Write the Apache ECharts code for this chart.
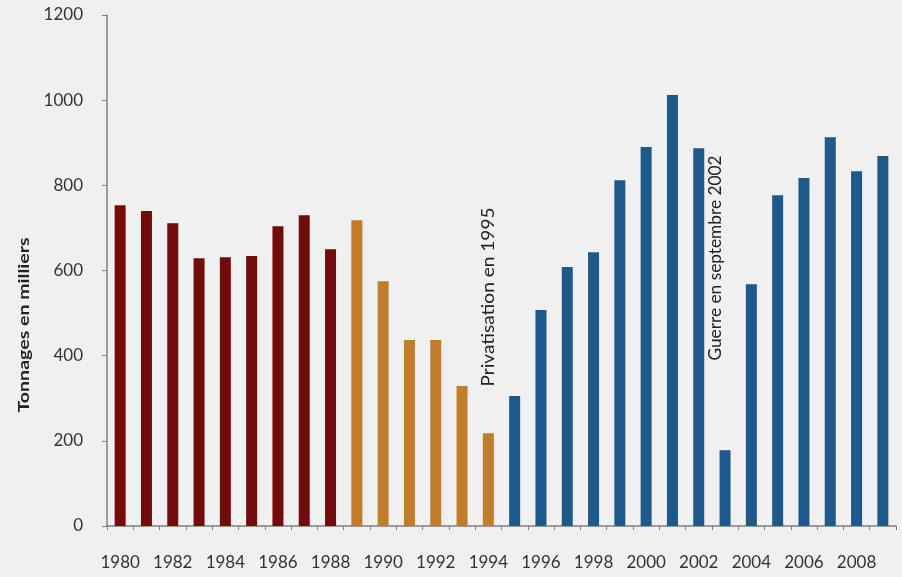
<!DOCTYPE html>
<html>
<head>
<meta charset="utf-8">
<script src="https://cdn.jsdelivr.net/npm/echarts@6/dist/echarts.min.js"></script>
<style>
html, body { margin: 0; padding: 0; background: #f0f0f0; }
#chart { width: 902px; height: 577px; }
</style>
</head>
<body>
<div id="chart"></div>
<script>
// years 1980 - 2009
var years = [];
for (var y = 1980; y <= 2009; y++) years.push(String(y));

// tonnages (milliers)
var tonnages = [753, 740, 711, 629, 631, 634, 704, 730, 650, 718,
                575, 437, 437, 329, 218, 305, 507, 608, 643, 812,
                890, 1012, 887, 178, 568, 777, 817, 913, 833, 869];

// period colours: up to 1988, 1989-1994, from 1995
var periodColors = ['#740b0b', '#c07d2b', '#1d5a8b'];
function colorFor(year) {
    var n = Number(year);
    if (n <= 1988) return periodColors[0];
    if (n <= 1994) return periodColors[1];
    return periodColors[2];
}

var yTicks = [0, 200, 400, 600, 800, 1000, 1200];
var yTitle = 'Tonnages en milliers';
var annotations = ['Privatisation en 1995', 'Guerre en septembre 2002'];

// the source picture has tall, narrow lettering: stretch text to a wanted length
var measureCtx = document.createElement('canvas').getContext('2d');
function stretchTo(text, font, len) {
    measureCtx.font = font;
    return len / measureCtx.measureText(text).width;
}

function verticalText(text, font, x, y, len) {
    return {
        type: 'text', x: x, y: y, rotation: Math.PI / 2,
        scaleX: stretchTo(text, font, len),
        style: { text: text, font: font, fill: '#222', textAlign: 'center', textVerticalAlign: 'middle' }
    };
}

var chart = echarts.init(document.getElementById('chart'));

var option = {
    backgroundColor: '#f0f0f0',
    animation: false,
    grid: { left: 107, right: 6, top: 15, bottom: 51 },
    xAxis: {
        type: 'category',
        data: years,
        axisLine: { lineStyle: { color: '#7f7f7f', width: 1.5 } },
        axisTick: { show: true, length: 4, interval: 0, lineStyle: { color: '#7f7f7f' } },
        axisLabel: { interval: 1, color: '#333', fontSize: 17, fontFamily: 'Lato', margin: 28 }
    },
    yAxis: {
        type: 'value',
        min: yTicks[0],
        max: yTicks[yTicks.length - 1],
        interval: 200,
        splitLine: { show: false },
        axisLine: { show: true, lineStyle: { color: '#7f7f7f', width: 1.5 } },
        axisTick: { show: true, length: 5, lineStyle: { color: '#7f7f7f' } },
        axisLabel: {
            color: '#333', fontSize: 17, fontFamily: 'Lato', margin: 24,
            formatter: function (v) { return String(v); }
        }
    },
    graphic: [
        verticalText(yTitle, 'bold 16px Lato', 24, 325, 175),
        verticalText(annotations[0], '17px Lato', 489, 297, 179),
        verticalText(annotations[1], '17px Lato', 716, 258, 205)
    ],
    series: [{
        type: 'bar',
        barWidth: 11,
        data: tonnages.map(function (v, i) {
            return { value: v, itemStyle: { color: colorFor(years[i]) } };
        })
    }]
};

chart.setOption(option);
</script>
</body>
</html>
